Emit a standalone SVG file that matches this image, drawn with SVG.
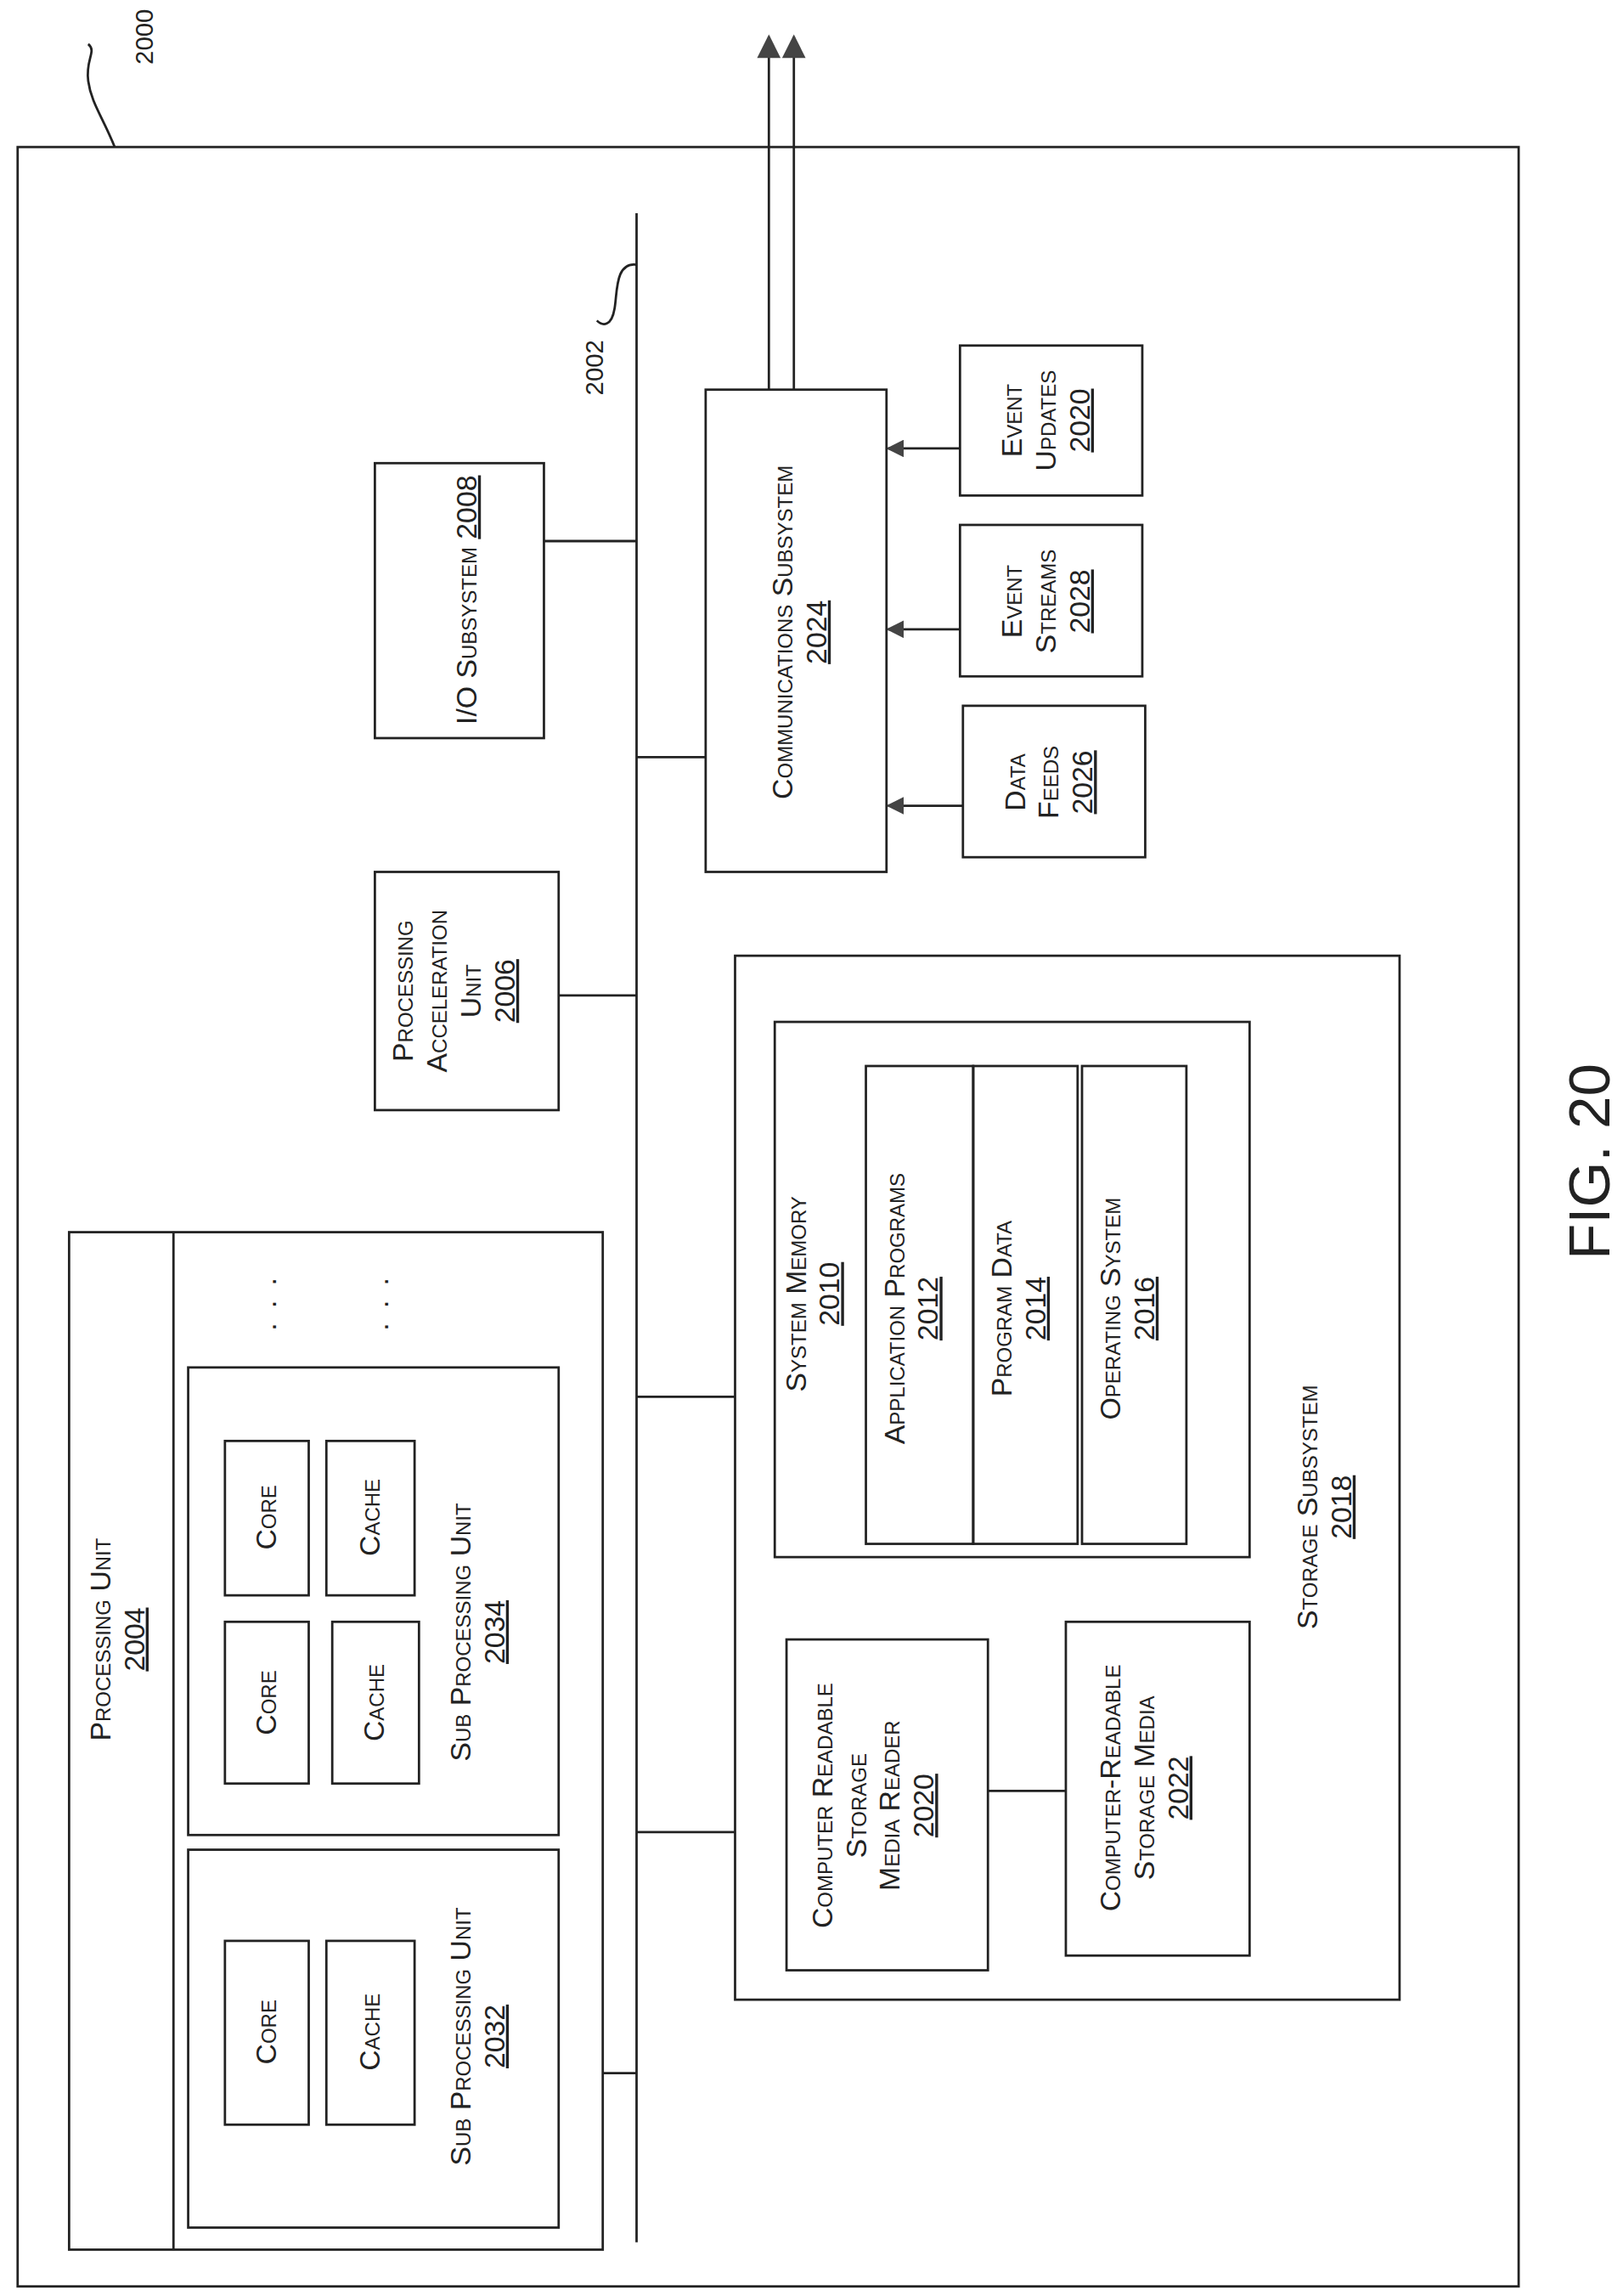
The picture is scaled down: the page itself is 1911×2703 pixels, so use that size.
<svg xmlns="http://www.w3.org/2000/svg" width="1911" height="2703" viewBox="0 0 1911 2703">
<style>
.b{fill:none;stroke:#222;stroke-width:1.6}
.l{fill:none;stroke:#222;stroke-width:1.6}
text{font-family:"Liberation Sans",Arial,sans-serif;font-size:19.5px;fill:#222;text-anchor:middle;font-variant:small-caps}
.u{text-decoration:underline}
</style>
<defs>
<marker id="ah" viewBox="0 0 10 10" refX="9" refY="5" markerWidth="12" markerHeight="12" orient="auto" markerUnits="userSpaceOnUse">
<path d="M0,0 L10,5 L0,10 z" fill="#444"/>
</marker>
<marker id="ah2" viewBox="0 0 10 10" refX="9" refY="5" markerWidth="18" markerHeight="16" orient="auto" markerUnits="userSpaceOnUse">
<path d="M0,0 L10,5 L0,10 z" fill="#444"/>
</marker>
</defs>
<rect width="1911" height="2703" fill="#fff"/>
<g transform="scale(1.731)">
<g id="system2000">
<rect class="b" x="12" y="100" width="1021" height="1455"/>
<path class="l" d="M78,100 C70,80 62,70 60,55 C58,40 66,35 60,30"/>
<text transform="translate(104,25) rotate(-90)" style="font-size:17px">2000</text>
</g>
<g id="connectors">
<line class="l" x1="433" y1="145" x2="433" y2="1525"/>
<path class="l" d="M433,180 C418,178 420,200 418,210 C416,222 410,222 406,218"/>
<line class="l" x1="523" y1="265" x2="523" y2="25" marker-end="url(#ah2)"/>
<line class="l" x1="540" y1="265" x2="540" y2="25" marker-end="url(#ah2)"/>
<line class="l" x1="433" y1="515" x2="480" y2="515"/>
<line class="l" x1="370" y1="368" x2="433" y2="368"/>
<line class="l" x1="380" y1="677" x2="433" y2="677"/>
<line class="l" x1="433" y1="950" x2="500" y2="950"/>
<line class="l" x1="433" y1="1246" x2="500" y2="1246"/>
<line class="l" x1="410" y1="1410" x2="433" y2="1410"/>
<line class="l" x1="653" y1="305" x2="604" y2="305" marker-end="url(#ah)"/>
<line class="l" x1="653" y1="428" x2="604" y2="428" marker-end="url(#ah)"/>
<line class="l" x1="655" y1="548" x2="604" y2="548" marker-end="url(#ah)"/>
<line class="l" x1="672" y1="1218" x2="725" y2="1218"/>
</g>
<text transform="translate(410,250) rotate(-90)" style="font-size:17px">2002</text>
<g id="comm2024">
<rect class="b" x="480" y="265" width="123" height="328"/>
<text transform="translate(539,430) rotate(-90)"><tspan x="0">Communications Subsystem</tspan><tspan x="0" dy="23" class="u">2024</tspan></text>
</g>
<g id="eventUpdates2020">
<rect class="b" x="653" y="235" width="124" height="102"/>
<text transform="translate(695,286) rotate(-90)"><tspan x="0">Event</tspan><tspan x="0" dy="23">Updates</tspan><tspan x="0" dy="23" class="u">2020</tspan></text>
</g>
<g id="eventStreams2028">
<rect class="b" x="653" y="357" width="124" height="103"/>
<text transform="translate(695,409) rotate(-90)"><tspan x="0">Event</tspan><tspan x="0" dy="23">Streams</tspan><tspan x="0" dy="23" class="u">2028</tspan></text>
</g>
<g id="dataFeeds2026">
<rect class="b" x="655" y="480" width="124" height="103"/>
<text transform="translate(697,532) rotate(-90)"><tspan x="0">Data</tspan><tspan x="0" dy="23">Feeds</tspan><tspan x="0" dy="23" class="u">2026</tspan></text>
</g>
<g id="io2008">
<rect class="b" x="255" y="315" width="115" height="187"/>
<text transform="translate(324,408) rotate(-90)">I/O Subsystem <tspan class="u">2008</tspan></text>
</g>
<g id="pau2006">
<rect class="b" x="255" y="593" width="125" height="162"/>
<text transform="translate(281,674) rotate(-90)"><tspan x="0">Processing</tspan><tspan x="0" dy="23">Acceleration</tspan><tspan x="0" dy="23">Unit</tspan><tspan x="0" dy="23" class="u">2006</tspan></text>
</g>
<g id="storage2018">
<rect class="b" x="500" y="650" width="452" height="710"/>
<text transform="translate(896,1025) rotate(-90)"><tspan x="0">Storage Subsystem</tspan><tspan x="0" dy="23" class="u">2018</tspan></text>
</g>
<g id="sysmem2010">
<rect class="b" x="527" y="695" width="323" height="364"/>
<text transform="translate(548,880) rotate(-90)"><tspan x="0">System Memory</tspan><tspan x="0" dy="23" class="u">2010</tspan></text>
</g>
<g id="app2012">
<rect class="b" x="589" y="725" width="73" height="325"/>
<text transform="translate(615,890) rotate(-90)"><tspan x="0">Application Programs</tspan><tspan x="0" dy="23" class="u">2012</tspan></text>
</g>
<g id="pdata2014">
<rect class="b" x="662" y="725" width="71" height="325"/>
<text transform="translate(688,890) rotate(-90)"><tspan x="0">Program Data</tspan><tspan x="0" dy="23" class="u">2014</tspan></text>
</g>
<g id="os2016">
<rect class="b" x="736" y="725" width="71" height="325"/>
<text transform="translate(762,890) rotate(-90)"><tspan x="0">Operating System</tspan><tspan x="0" dy="23" class="u">2016</tspan></text>
</g>
<g id="reader2020">
<rect class="b" x="535" y="1115" width="137" height="225"/>
<text transform="translate(566,1228) rotate(-90)"><tspan x="0">Computer Readable</tspan><tspan x="0" dy="23">Storage</tspan><tspan x="0" dy="23">Media Reader</tspan><tspan x="0" dy="23" class="u">2020</tspan></text>
</g>
<g id="media2022">
<rect class="b" x="725" y="1103" width="125" height="227"/>
<text transform="translate(762,1216) rotate(-90)"><tspan x="0">Computer-Readable</tspan><tspan x="0" dy="23">Storage Media</tspan><tspan x="0" dy="23" class="u">2022</tspan></text>
</g>
<g id="pu2004">
<rect class="b" x="47" y="838" width="363" height="692"/>
<line class="l" x1="118" y1="838" x2="118" y2="1530"/>
<text transform="translate(75,1115) rotate(-90)"><tspan x="0">Processing Unit</tspan><tspan x="0" dy="23" class="u">2004</tspan></text>
<text transform="translate(188,882) rotate(-90)" style="letter-spacing:10px">...</text>
<text transform="translate(264,882) rotate(-90)" style="letter-spacing:10px">...</text>
</g>
<g id="spu2034">
<rect class="b" x="128" y="930" width="252" height="318"/>
<rect class="b" x="153" y="980" width="57" height="105"/>
<text transform="translate(188,1032) rotate(-90)">Core</text>
<rect class="b" x="222" y="980" width="60" height="105"/>
<text transform="translate(258,1032) rotate(-90)">Cache</text>
<rect class="b" x="153" y="1103" width="57" height="110"/>
<text transform="translate(188,1158) rotate(-90)">Core</text>
<rect class="b" x="226" y="1103" width="59" height="110"/>
<text transform="translate(261,1158) rotate(-90)">Cache</text>
<text transform="translate(320,1110) rotate(-90)"><tspan x="0">Sub Processing Unit</tspan><tspan x="0" dy="23" class="u">2034</tspan></text>
</g>
<g id="spu2032">
<rect class="b" x="128" y="1258" width="252" height="257"/>
<rect class="b" x="153" y="1320" width="57" height="125"/>
<text transform="translate(188,1382) rotate(-90)">Core</text>
<rect class="b" x="222" y="1320" width="60" height="125"/>
<text transform="translate(258,1382) rotate(-90)">Cache</text>
<text transform="translate(320,1385) rotate(-90)"><tspan x="0">Sub Processing Unit</tspan><tspan x="0" dy="23" class="u">2032</tspan></text>
</g>
<text transform="translate(1095,790) rotate(-90)" style="font-size:40px;font-variant:normal">FIG. 20</text>
</g>
</svg>
